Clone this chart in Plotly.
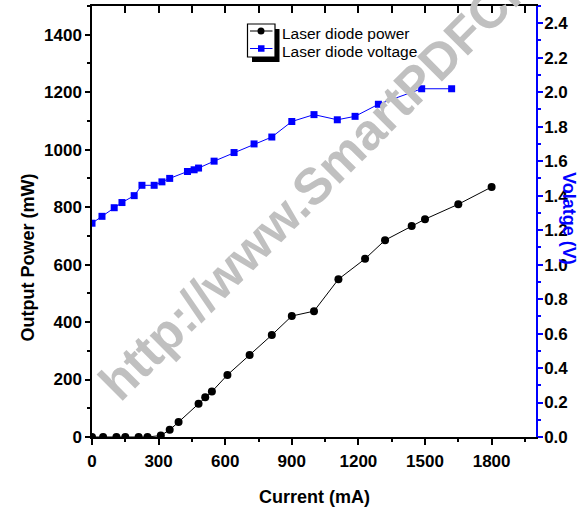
import plotly.graph_objects as go

# Laser diode power (black circles)
current_p = [0, 50, 110, 150, 210, 250, 310, 350, 390, 480, 510, 540, 610, 710,
             810, 900, 1000, 1110, 1230, 1320, 1440, 1500, 1650, 1800]
power_mw = [0, 0, 0, 0, 0, 0, 5, 25, 52, 116, 138, 158, 216, 285,
            355, 421, 438, 549, 620, 685, 734, 758, 810, 870]

# Laser diode voltage (blue squares)
current_v = [0, 45, 100, 135, 190, 225, 280, 315, 350, 430, 460, 480, 550, 640,
             730, 810, 900, 1000, 1105, 1185, 1290, 1485, 1620]
voltage_v = [1.24, 1.28, 1.33, 1.36, 1.40, 1.46, 1.46, 1.48, 1.50, 1.54, 1.55, 1.56,
             1.60, 1.65, 1.70, 1.74, 1.83, 1.87, 1.84, 1.86, 1.93, 2.02, 2.02]

x_ticks = [0, 300, 600, 900, 1200, 1500, 1800]
y_ticks = [0, 200, 400, 600, 800, 1000, 1200, 1400]
y2_ticks = [round(0.2 * i, 1) for i in range(13)]

series_names = ["Laser diode power", "Laser diode voltage"]

FONT = "Liberation Sans, Arial, sans-serif"
BLUE = "#0000ff"

# plot area in pixels (for paper-coordinate helpers)
L, R, T, B = 92, 536, 6, 437
def px(x):
    return (x - L) / (R - L)
def py(y):
    return (B - y) / (B - T)

fig = go.Figure()
fig.add_trace(go.Scatter(
    x=current_p, y=power_mw, name=series_names[0], mode="lines+markers",
    line=dict(color="black", width=1), marker=dict(symbol="circle", size=8, color="black"),
    xaxis="x", yaxis="y", showlegend=False))
fig.add_trace(go.Scatter(
    x=current_v, y=voltage_v, name=series_names[1], mode="lines+markers",
    line=dict(color=BLUE, width=1), marker=dict(symbol="square", size=7, color=BLUE),
    xaxis="x", yaxis="y2", showlegend=False))
# invisible trace so the top tick axis is drawn
fig.add_trace(go.Scatter(x=[0], y=[0], mode="markers", marker=dict(opacity=0),
                         showlegend=False, hoverinfo="skip", xaxis="x2", yaxis="y"))

tickfont = dict(family=FONT, size=17, color="black", weight="bold")

fig.update_layout(
    width=586, height=514,
    margin=dict(l=L, r=586 - R, t=T, b=514 - B),
    paper_bgcolor="white", plot_bgcolor="white",
    showlegend=False,
    xaxis=dict(range=[0, 2000], tickvals=x_ticks, ticks="outside", ticklen=6, tickwidth=1.5,
               tickcolor="black", showline=True, linecolor="black", linewidth=1.5,
               showgrid=False, zeroline=False, tickfont=tickfont, ticklabelstandoff=2,
               minor=dict(dtick=150, tick0=0, ticks="outside", ticklen=3, tickwidth=1.5, tickcolor="black")),
    xaxis2=dict(range=[0, 2000], overlaying="x", side="top", tickvals=list(range(0, 2001, 150)),
                ticks="inside", ticklen=7, tickwidth=1.5, tickcolor="black",
                showticklabels=False, showline=True, linecolor="black", linewidth=1.5,
                showgrid=False, zeroline=False),
    yaxis=dict(range=[0, 1500], tickvals=y_ticks, ticks="outside", ticklen=5, tickwidth=1.5,
               tickcolor="black", showline=True, linecolor="black", linewidth=1.5,
               showgrid=False, zeroline=False, tickfont=tickfont,
               minor=dict(dtick=100, tick0=0, ticks="outside", ticklen=3, tickwidth=1.5, tickcolor="black")),
    yaxis2=dict(range=[0, 2.5], overlaying="y", side="right", tickvals=y2_ticks,
                ticktext=[f"{v:.1f}" for v in y2_ticks],
                ticks="outside", ticklen=5, tickwidth=1.5, tickcolor=BLUE,
                showline=True, linecolor=BLUE, linewidth=1.5, ticklabelstandoff=-2,
                showgrid=False, zeroline=False, tickfont=tickfont,
                minor=dict(dtick=0.1, tick0=0, ticks="outside", ticklen=3, tickwidth=1.5, tickcolor=BLUE)),
)

# Origin-style legend: shadow, frame, symbols, text
fig.add_shape(type="rect", xref="paper", yref="paper",
              x0=px(252), x1=px(279.5), y0=py(62), y1=py(29),
              fillcolor="black", line=dict(width=0), layer="above")
fig.add_shape(type="rect", xref="paper", yref="paper",
              x0=px(247.5), x1=px(275), y0=py(57), y1=py(24),
              fillcolor="white", line=dict(color="black", width=1.2), layer="above")
for yy, col in [(31, "black"), (48.5, BLUE)]:
    fig.add_shape(type="line", xref="paper", yref="paper",
                  x0=px(250), x1=px(272.5), y0=py(yy), y1=py(yy),
                  line=dict(color=col, width=1), layer="above")
fig.add_shape(type="circle", xref="paper", yref="paper",
              x0=px(257.5), x1=px(264.5), y0=py(34.5), y1=py(27.5),
              fillcolor="black", line=dict(color="black", width=0), layer="above")
fig.add_shape(type="rect", xref="paper", yref="paper",
              x0=px(258), x1=px(264.5), y0=py(51.75), y1=py(45.25),
              fillcolor=BLUE, line=dict(color=BLUE, width=0), layer="above")
for name, yy in zip(series_names, [33.5, 51.5]):
    fig.add_annotation(text=name, xref="paper", yref="paper", x=px(280), y=py(yy),
                       xanchor="left", yanchor="middle", showarrow=False,
                       font=dict(family=FONT, size=15.5, color="black"))

# axis titles
fig.add_annotation(text="Current (mA)", xref="paper", yref="paper",
                   x=px(314), y=py(497), xanchor="center", yanchor="middle", showarrow=False,
                   font=dict(family=FONT, size=18, color="black", weight="bold"))
fig.add_annotation(text="Output Power (mW)", xref="paper", yref="paper",
                   x=px(27.5), y=py(258), xanchor="center", yanchor="middle", showarrow=False,
                   textangle=-90,
                   font=dict(family=FONT, size=18, color="black", weight="bold"))
fig.add_annotation(text="Volatge (V)", xref="paper", yref="paper",
                   x=px(569), y=py(218), xanchor="center", yanchor="middle", showarrow=False,
                   textangle=90,
                   font=dict(family=FONT, size=18, color=BLUE, weight="bold"))

# watermark
fig.add_annotation(text="http://www.SmartPDFCreator.com", xref="paper", yref="paper",
                   x=px(396), y=py(102), xanchor="center", yanchor="middle", showarrow=False,
                   textangle=-45,
                   font=dict(family=FONT, size=51, color="#c0c0c0", weight="bold"))

fig.write_html("out.html", config={"displayModeBar": False},
               post_script="document.body.style.margin='0px';")
